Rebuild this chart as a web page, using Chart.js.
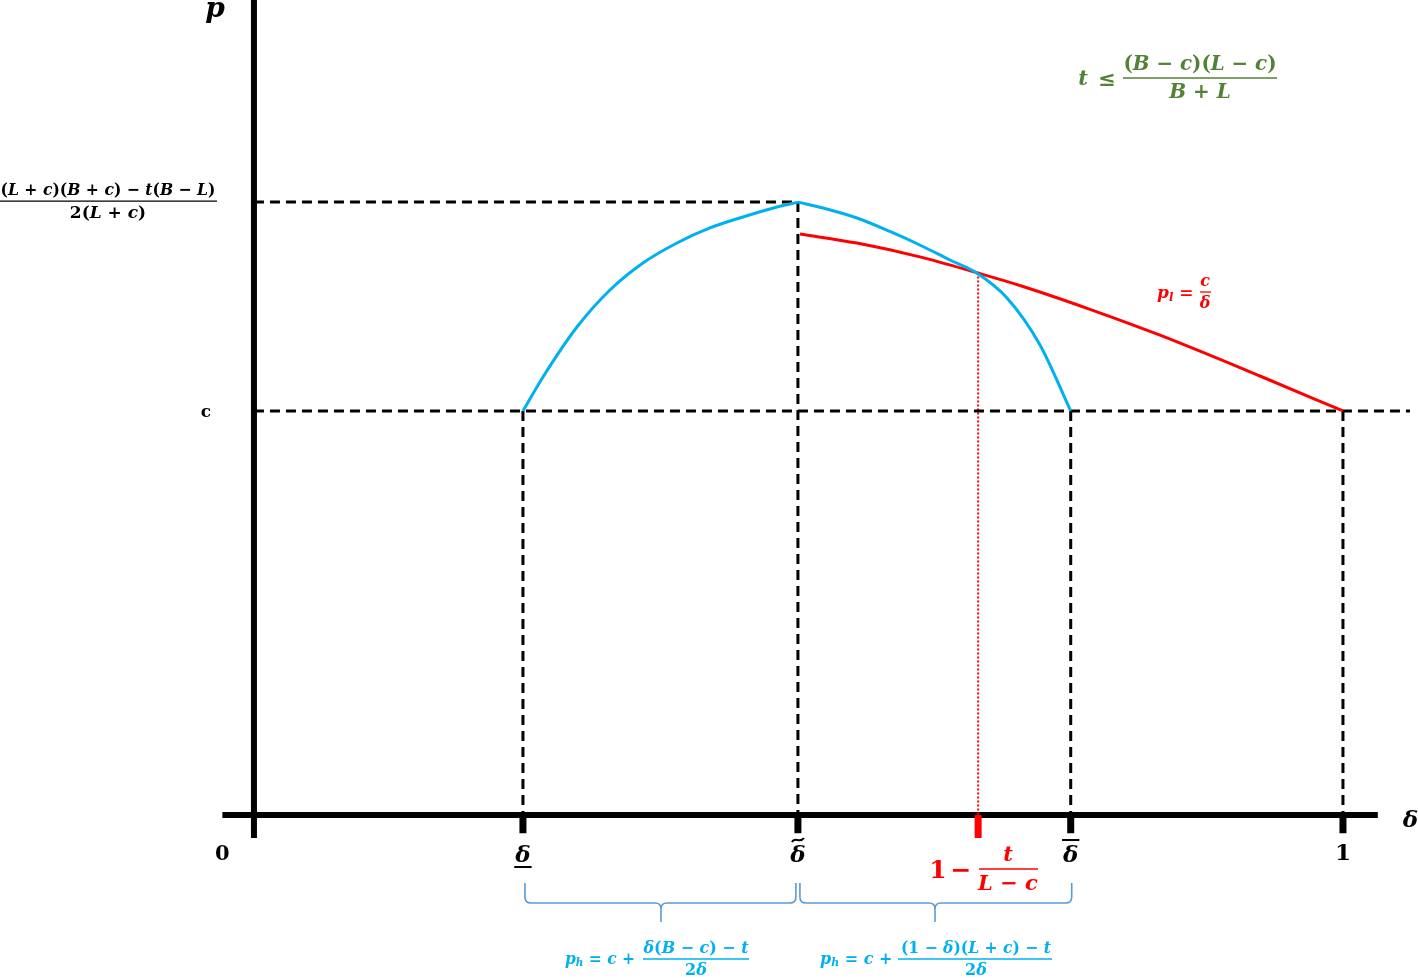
<!DOCTYPE html>
<html>
<head>
<meta charset="utf-8">
<script src="https://cdn.jsdelivr.net/npm/chart.js@4.4.1/dist/chart.umd.min.js"></script>
<style>
    html, body { margin: 0; padding: 0; background: #fff; }
    #wrap { width: 1418px; height: 978px; }
</style>
</head>
<body>
<div id="wrap"><canvas id="chart"></canvas></div>
<script>
// ----------------------------------------------------
// DATA (delta on x, price on y, c = 1)
// ----------------------------------------------------
const blueDelta = [0.247, 0.2654, 0.2966, 0.3269, 0.3572, 0.3884, 0.4187, 0.4490, 0.4803, 0.4995,
                   0.5225, 0.5537, 0.5840, 0.6143, 0.6391, 0.6630, 0.6915, 0.7218, 0.750];
const bluePrice = [1.000, 1.0842, 1.2079, 1.2995, 1.3663, 1.4158, 1.4530, 1.4802, 1.5050, 1.517,
                   1.5025, 1.4777, 1.4443, 1.4072, 1.3738, 1.3428, 1.2797, 1.1634, 1.000];
const bluePeak = 9; // index of the kink at delta tilde

const redDelta = [0.5014, 0.5537, 0.6143, 0.6630, 0.7062, 0.7677, 0.8320, 0.9238, 1.000];
const redPrice = [1.4381, 1.4156, 1.3797, 1.3428, 1.3082, 1.2517, 1.1876, 1.0866, 1.000];

const tickDelta = [0.247, 0.4995, 0.750, 1.000];
const tickLabels = ['δ', 'δ', 'δ', '1'];
const tickMarks = ['under', 'tilde', 'over', ''];

const crossDelta = 0.665;   // 1 - t/(L-c)
const crossPrice = 1.3428;
const priceC = 1;
const priceTop = 1.517;

// ----------------------------------------------------
// HELPERS
// ----------------------------------------------------
const FONT = "'DejaVu Serif', 'Liberation Serif', serif";
const pts = (xs, ys) => xs.map((x, i) => ({ x: x, y: ys[i] }));

function segments(list) {
    const out = [];
    list.forEach(s => { out.push(s[0], s[1], { x: s[1].x, y: null }); });
    return out;
}

const guideSegs = [
    [{ x: 0, y: priceTop }, { x: tickDelta[1], y: priceTop }],
    [{ x: 0, y: priceC }, { x: 1.0615, y: priceC }],
    [{ x: tickDelta[0], y: priceC }, { x: tickDelta[0], y: 0 }],
    [{ x: tickDelta[1], y: priceTop }, { x: tickDelta[1], y: 0 }],
    [{ x: tickDelta[2], y: priceC }, { x: tickDelta[2], y: 0 }],
    [{ x: tickDelta[3], y: priceC }, { x: tickDelta[3], y: 0 }]
];
const axisSegs = [
    [{ x: 0, y: -0.057 }, { x: 0, y: 2.02 }],
    [{ x: -0.029, y: 0 }, { x: 1.032, y: 0 }]
];
const tickSegs = tickDelta.map(d => [{ x: d, y: 0 }, { x: d, y: -0.045 }]);

function mathParts(ctx, str, size, plain) {
    const parts = [];
    for (let i = 0; i < str.length; i++) {
        const ch = str[i];
        if (ch === '_') { parts.push({ t: str[i + 1], it: true, sub: true }); i++; continue; }
        parts.push({ t: ch, it: !plain && /[A-Za-zδ]/.test(ch), sub: false });
    }
    let w = 0;
    parts.forEach(p => {
        p.font = `${p.it ? 'italic ' : ''}bold ${p.sub ? size * 0.68 : size}px ${FONT}`;
        ctx.font = p.font;
        p.w = ctx.measureText(p.t).width;
        w += p.w;
    });
    return { parts, w };
}

function drawMath(ctx, str, x, y, size, color, align, opts = {}) {
    const m = mathParts(ctx, str, size, opts.plain);
    const k = opts.fit && m.w > opts.fit ? opts.fit / m.w : 1;
    const w = m.w * k;
    const sx = align === 'center' ? x - w / 2 : align === 'right' ? x - w : x;
    ctx.save();
    ctx.translate(sx, y);
    ctx.scale(k, 1);
    ctx.fillStyle = color;
    ctx.textAlign = 'left';
    ctx.textBaseline = 'alphabetic';
    let cx = 0;
    m.parts.forEach(p => {
        ctx.font = p.font;
        ctx.fillText(p.t, cx, p.sub ? size * 0.15 : 0);
        cx += p.w;
    });
    ctx.restore();
    return w;
}

function drawFrac(ctx, num, den, cx, ly, size, color, x0, x1, fitNum) {
    ctx.strokeStyle = color;
    ctx.lineWidth = 1.3;
    ctx.beginPath();
    ctx.moveTo(x0, ly);
    ctx.lineTo(x1, ly);
    ctx.stroke();
    drawMath(ctx, num, cx, ly - size * 0.38, size, color, 'center', { fit: fitNum });
    drawMath(ctx, den, cx, ly + size * 1.0, size, color, 'center');
}

function drawBrace(ctx, x0, x1, xm, y0, y1, tip) {
    const r = 6;
    ctx.strokeStyle = '#5B9BD5';
    ctx.lineWidth = 1.6;
    ctx.beginPath();
    ctx.moveTo(x0, y0);
    ctx.lineTo(x0, y1 - r);
    ctx.quadraticCurveTo(x0, y1, x0 + r, y1);
    ctx.lineTo(xm - r, y1);
    ctx.quadraticCurveTo(xm, y1, xm, y1 + r);
    ctx.lineTo(xm, tip);
    ctx.moveTo(xm, y1 + r);
    ctx.quadraticCurveTo(xm, y1, xm + r, y1);
    ctx.lineTo(x1 - r, y1);
    ctx.quadraticCurveTo(x1, y1, x1, y1 - r);
    ctx.lineTo(x1, y0);
    ctx.stroke();
}

// ----------------------------------------------------
// LABELS PLUGIN
// ----------------------------------------------------
const labelsPlugin = {
    id: 'mathLabels',
    afterDatasetsDraw(chart) {
        const ctx = chart.ctx;
        const xs = chart.scales.x, ys = chart.scales.y;
        const X = v => xs.getPixelForValue(v);
        const Y = v => ys.getPixelForValue(v);
        const axisY = Y(0);
        ctx.save();

        // axis titles
        drawMath(ctx, 'p', X(0) - 39, 17, 28, '#000', 'center');
        drawMath(ctx, 'δ', X(1.062), axisY + 12, 23, '#000', 'center');
        drawMath(ctx, '0', X(-0.029), axisY + 45, 21, '#000', 'center');
        drawMath(ctx, 'c', X(0) - 48, Y(priceC) + 6, 17, '#000', 'center', { plain: true });

        // tick labels
        tickDelta.forEach((d, i) => {
            const px = X(d);
            const base = axisY + (tickMarks[i] === '' ? 45 : 47);
            const w = drawMath(ctx, tickLabels[i], px, base, 23, '#000', 'center');
            ctx.strokeStyle = '#000';
            ctx.lineWidth = 2;
            ctx.beginPath();
            if (tickMarks[i] === 'under') {
                ctx.moveTo(px - w / 2 - 1, base + 5); ctx.lineTo(px + w / 2 + 1, base + 5);
            } else if (tickMarks[i] === 'over') {
                ctx.moveTo(px - w / 2 - 1, base - 22); ctx.lineTo(px + w / 2 + 1, base - 22);
            } else if (tickMarks[i] === 'tilde') {
                ctx.moveTo(px - 6, base - 20);
                ctx.bezierCurveTo(px - 3, base - 26, px + 2, base - 18, px + 6, base - 24);
            }
            ctx.stroke();
        });

        // top price level
        const topY = Y(priceTop) - 1;
        drawFrac(ctx, '(L + c)(B + c) − t(B − L)', '2(L + c)', 108, topY, 17, '#000', 0, 217, 215);

        // condition on t
        const green = '#538135';
        drawMath(ctx, 't', 1083, 85, 21, green, 'center');
        drawMath(ctx, '≤', 1107, 86, 21, green, 'center');
        drawFrac(ctx, '(B − c)(L − c)', 'B + L', 1200, 78, 20, green, 1123, 1277, 153);

        // p_l label
        const red = '#FF0000';
        drawMath(ctx, 'p_l =', 1157, 298, 17, red, 'left', { fit: 38 });
        drawFrac(ctx, 'c', 'δ', 1205, 292, 16, red, 1200, 1211);

        // red crossing label
        drawMath(ctx, '1', 938, 878, 25, red, 'center');
        drawMath(ctx, '−', 961, 878, 25, red, 'center');
        drawFrac(ctx, 't', 'L − c', 1008, 869, 21, red, 979, 1038, 58);

        // braces
        const by0 = axisY + 68, by1 = axisY + 88;
        drawBrace(ctx, X(tickDelta[0]) + 2, X(tickDelta[1]) - 2, 661, by0, by1, axisY + 107);
        drawBrace(ctx, X(tickDelta[1]) + 2, X(tickDelta[2]) + 1, 935, by0, by1, axisY + 107);

        // p_h formulas
        const blue = '#00B0F0';
        drawMath(ctx, 'p_h = c +', 565, 964, 16, blue, 'left', { fit: 70 });
        drawFrac(ctx, 'δ(B − c) − t', '2δ', 696, 959, 16, blue, 643, 749, 105);
        drawMath(ctx, 'p_h = c +', 820, 964, 16, blue, 'left', { fit: 74 });
        drawFrac(ctx, '(1 − δ)(L + c) − t', '2δ', 976, 959, 16, blue, 898, 1052, 150);

        ctx.restore();
    }
};

// ----------------------------------------------------
// CHART
// ----------------------------------------------------
const blueRise = pts(blueDelta.slice(0, bluePeak + 1), bluePrice.slice(0, bluePeak + 1));
const blueFall = pts(blueDelta.slice(bluePeak), bluePrice.slice(bluePeak));

const ctx = document.getElementById('chart').getContext('2d');
new Chart(ctx, {
    type: 'line',
    data: {
        datasets: [
            {
                data: blueRise,
                borderColor: '#00B0F0', borderWidth: 3,
                cubicInterpolationMode: 'monotone', pointRadius: 0, order: 1
            },
            {
                data: blueFall,
                borderColor: '#00B0F0', borderWidth: 3,
                cubicInterpolationMode: 'monotone', pointRadius: 0, order: 1
            },
            {
                data: pts(redDelta, redPrice),
                borderColor: '#FF0000', borderWidth: 3,
                cubicInterpolationMode: 'monotone', pointRadius: 0, order: 2
            },
            {
                data: segments(guideSegs),
                borderColor: '#000', borderWidth: 3, borderDash: [10, 6],
                pointRadius: 0, order: 3
            },
            {
                data: segments([[{ x: crossDelta, y: crossPrice }, { x: crossDelta, y: 0 }]]),
                borderColor: '#FF0000', borderWidth: 2, borderDash: [2, 2],
                pointRadius: 0, order: 4
            },
            {
                data: segments(axisSegs),
                borderColor: '#000', borderWidth: 6,
                pointRadius: 0, order: 5
            },
            {
                data: segments(tickSegs),
                borderColor: '#000', borderWidth: 7,
                pointRadius: 0, order: 6
            },
            {
                data: segments([[{ x: crossDelta, y: 0 }, { x: crossDelta, y: -0.057 }]]),
                borderColor: '#FF0000', borderWidth: 7,
                pointRadius: 0, order: 0
            }
        ]
    },
    options: {
        responsive: true, maintainAspectRatio: false, animation: false,
        layout: { padding: 0 },
        plugins: { legend: { display: false }, tooltip: { enabled: false } },
        scales: {
            x: { type: 'linear', min: -0.2332, max: 1.0689, display: false },
            y: { type: 'linear', min: -0.4035, max: 2.0173, display: false }
        }
    },
    plugins: [labelsPlugin]
});
</script>
</body>
</html>
